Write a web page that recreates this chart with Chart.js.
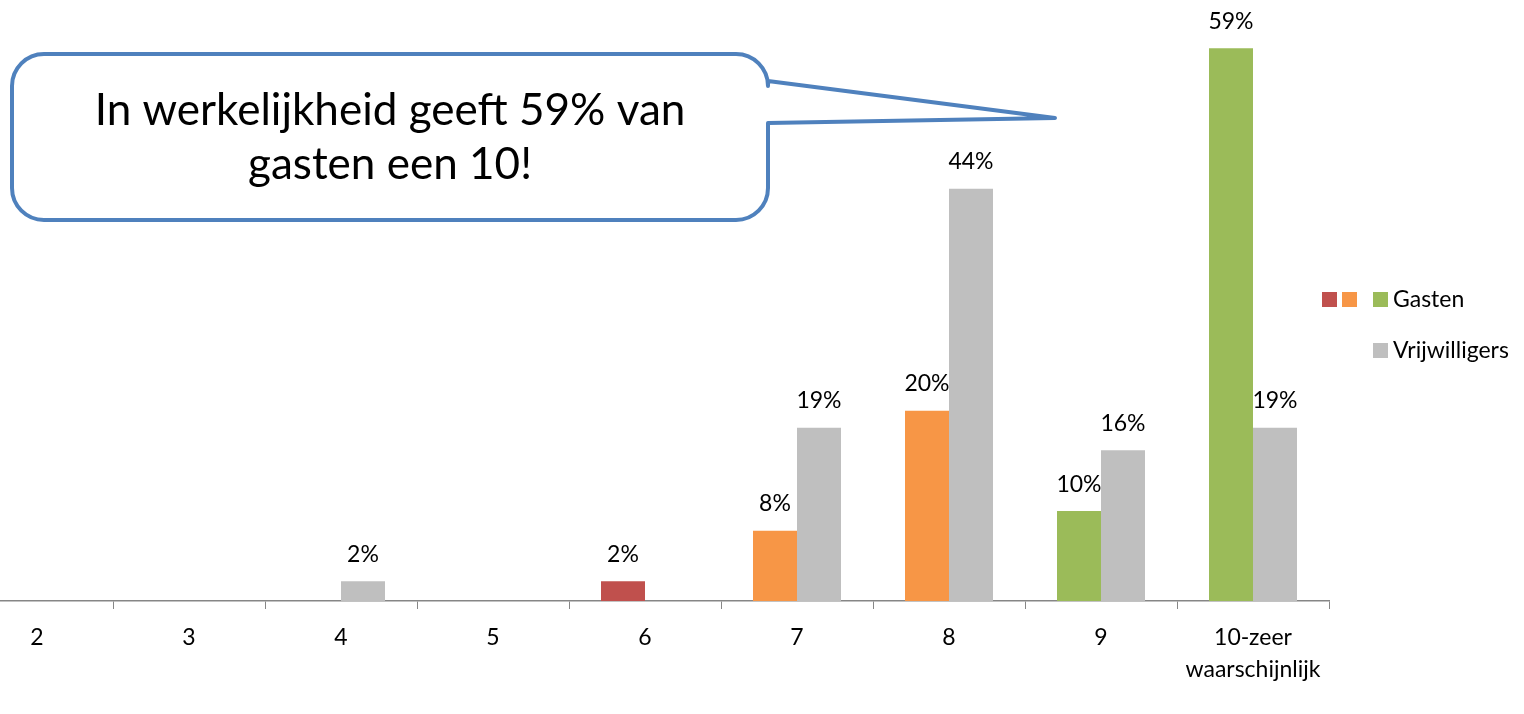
<!DOCTYPE html>
<html>
<head>
<meta charset="utf-8">
<script src="https://cdn.jsdelivr.net/npm/chart.js@4/dist/chart.umd.min.js"></script>
<style>
  html, body { margin: 0; padding: 0; background: #fff; }
  #wrap { position: relative; width: 1524px; height: 714px; overflow: hidden; }
  #chart { position: absolute; left: -39px; top: 0; }
</style>
</head>
<body>
<div id="wrap"><canvas id="chart" width="1563" height="714"></canvas></div>
<script>
// --- data ---
const categorieen = ['2', '3', '4', '5', '6', '7', '8', '9', ['10-zeer', 'waarschijnlijk']];
const gasten = [0, 0, 0, 0, 2.1, 7.5, 20.3, 9.6, 59];
const vrijwilligers = [0, 0, 2.1, 0, 0, 18.5, 44, 16.1, 18.5];
const gastenKleuren = ['#c0504d', '#c0504d', '#c0504d', '#c0504d', '#c0504d', '#f79646', '#f79646', '#9bbb59', '#9bbb59'];
const grijs = '#bfbfbf';
const lettertype = 'Lato, "Open Sans", sans-serif';
const OFFSET = 39; // canvas steekt links buiten beeld

// labels boven de staven
const waardeLabels = {
    id: 'waardeLabels',
    afterDatasetsDraw(chart) {
        const ctx = chart.ctx;
        ctx.save();
        ctx.font = '23px ' + lettertype;
        ctx.fillStyle = '#000';
        ctx.textAlign = 'center';
        ctx.textBaseline = 'middle';
        chart.data.datasets.forEach((ds, i) => {
            chart.getDatasetMeta(i).data.forEach((bar, j) => {
                const v = ds.data[j];
                if (!v) return;
                ctx.fillText(Math.round(v) + '%', bar.x, bar.y - 27);
            });
        });
        ctx.restore();
    }
};

// legenda en ballon met tekst
const extra = {
    id: 'extra',
    afterDraw(chart) {
        const ctx = chart.ctx;
        ctx.save();
        ctx.translate(OFFSET, 0);

        // legenda
        ctx.fillStyle = '#c0504d'; ctx.fillRect(1322, 292, 15, 15);
        ctx.fillStyle = '#f79646'; ctx.fillRect(1342, 292, 15, 15);
        ctx.fillStyle = '#9bbb59'; ctx.fillRect(1373, 292, 15, 15);
        ctx.fillStyle = grijs; ctx.fillRect(1373, 343, 15, 15);
        ctx.fillStyle = '#000';
        ctx.font = '23px ' + lettertype;
        ctx.textBaseline = 'middle';
        ctx.fillText('Gasten', 1393, 300);
        ctx.fillText('Vrijwilligers', 1393, 351);

        // ballon
        const l = 12, t = 54, r = 768, b = 220, rad = 32;
        ctx.beginPath();
        ctx.moveTo(l + rad, t);
        ctx.lineTo(r - rad, t);
        ctx.arcTo(r, t, r, t + rad, rad);
        ctx.lineTo(r, 81);
        ctx.lineTo(1055, 118);
        ctx.lineTo(r, 123);
        ctx.lineTo(r, b - rad);
        ctx.arcTo(r, b, r - rad, b, rad);
        ctx.lineTo(l + rad, b);
        ctx.arcTo(l, b, l, b - rad, rad);
        ctx.lineTo(l, t + rad);
        ctx.arcTo(l, t, l + rad, t, rad);
        ctx.closePath();
        ctx.lineWidth = 4;
        ctx.strokeStyle = '#4f81bd';
        ctx.lineJoin = 'round';
        ctx.stroke();

        // tekst passend maken op de breedte van de eerste regel
        const regel1 = 'In werkelijkheid geeft 59% van';
        const regel2 = 'gasten een 10!';
        let size = 40;
        ctx.font = size + 'px ' + lettertype;
        size = size * 591 / ctx.measureText(regel1).width;
        ctx.font = size + 'px ' + lettertype;
        ctx.textAlign = 'center';
        ctx.textBaseline = 'alphabetic';
        ctx.fillText(regel1, 390, 125);
        ctx.fillText(regel2, 390, 179);
        ctx.restore();
    }
};

new Chart(document.getElementById('chart'), {
    type: 'bar',
    data: {
        labels: categorieen,
        datasets: [
            { label: 'Gasten', data: gasten, backgroundColor: gastenKleuren },
            { label: 'Vrijwilligers', data: vrijwilligers, backgroundColor: grijs }
        ]
    },
    options: {
        responsive: false,
        animation: false,
        events: [],
        categoryPercentage: 88 / 152,
        barPercentage: 1,
        layout: { padding: { left: 0, right: 195, top: 39, bottom: 0 } },
        plugins: {
            legend: { display: false },
            tooltip: { enabled: false }
        },
        scales: {
            x: {
                grid: { drawOnChartArea: false, drawTicks: true, tickLength: 8, color: '#868686', offset: true },
                border: { color: '#868686', width: 1.5 },
                ticks: { color: '#000', font: { size: 23, family: lettertype, lineHeight: 1.39 }, padding: 13, maxRotation: 0, autoSkip: false },
                afterFit(scale) { scale.height = 113; }
            },
            y: {
                display: false,
                min: 0,
                max: 60
            }
        }
    },
    plugins: [waardeLabels, extra]
});
</script>
</body>
</html>
